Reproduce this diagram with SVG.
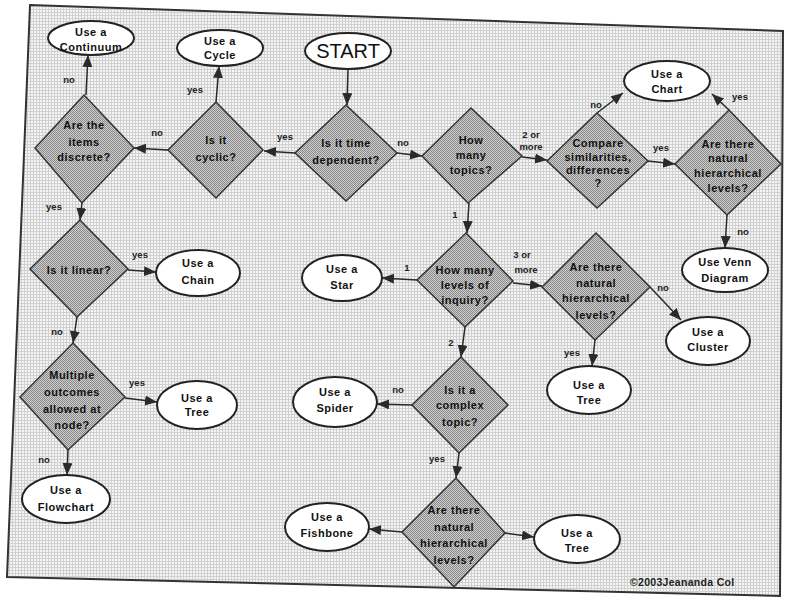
<svg xmlns="http://www.w3.org/2000/svg" width="785" height="603" viewBox="0 0 785 603">
<style>
.t{font-family:"Liberation Sans",Arial,sans-serif;font-weight:bold;font-size:11px;letter-spacing:0.5px;fill:#111;text-anchor:middle}
.l{font-family:"Liberation Sans",Arial,sans-serif;font-weight:bold;font-size:9.5px;fill:#222;text-anchor:middle}
.ell{fill:#fff;stroke:#222;stroke-width:2}
.dia{fill:url(#dp);stroke:#333;stroke-width:1.5}
.c{stroke:#2a2a2a;stroke-width:1.5;fill:none;marker-end:url(#ah)}
</style>
<defs>
<pattern id="bg" width="3" height="3" patternUnits="userSpaceOnUse">
<rect width="3" height="3" fill="#f5f5f5"/>
<rect width="3" height="1" fill="#d0d0d0"/>
<rect width="1" height="3" fill="#d0d0d0"/>
</pattern>
<pattern id="dp" width="2" height="2" patternUnits="userSpaceOnUse">
<rect width="2" height="2" fill="#cdcdcd"/>
<rect width="1" height="1" fill="#8a8a8a"/>
<rect x="1" y="1" width="1" height="1" fill="#8a8a8a"/>
</pattern>
<marker id="ah" markerUnits="userSpaceOnUse" markerWidth="13" markerHeight="11" refX="12" refY="5" orient="auto">
<path d="M0,0 L12,5 L0,10 z" fill="#2a2a2a"/>
</marker>
</defs>
<rect width="785" height="603" fill="#fff"/>
<polygon id="frame" points="30,5 783,31 780,596 7,577" fill="url(#bg)" stroke="#333" stroke-width="2"/>

<g id="connectors">
<line class="c" x1="348" y1="69" x2="347" y2="105"/>
<line class="c" x1="295" y1="153" x2="264" y2="151"/>
<text class="l" x="285" y="140">yes</text>
<line class="c" x1="216" y1="102" x2="219" y2="66"/>
<text class="l" x="195" y="93">yes</text>
<line class="c" x1="168" y1="150" x2="134" y2="148"/>
<text class="l" x="157" y="136">no</text>
<line class="c" x1="86" y1="95" x2="88" y2="55"/>
<text class="l" x="69" y="83">no</text>
<line class="c" x1="82" y1="203" x2="80" y2="220"/>
<text class="l" x="54" y="210">yes</text>
<line class="c" x1="128" y1="270" x2="156" y2="272"/>
<text class="l" x="140" y="258">yes</text>
<line class="c" x1="77" y1="317" x2="73" y2="343"/>
<text class="l" x="57" y="335">no</text>
<line class="c" x1="125" y1="398" x2="157" y2="402"/>
<text class="l" x="137" y="386">yes</text>
<line class="c" x1="68" y1="450" x2="67" y2="475"/>
<text class="l" x="44" y="463">no</text>
<line class="c" x1="397" y1="153" x2="422" y2="156"/>
<text class="l" x="403" y="146">no</text>
<line class="c" x1="522" y1="157" x2="547" y2="160"/>
<text class="l" x="531" y="138">2 or</text>
<text class="l" x="531" y="150">more</text>
<line class="c" x1="648" y1="161" x2="675" y2="164"/>
<text class="l" x="661" y="151">yes</text>
<line class="c" x1="597" y1="113" x2="623" y2="93"/>
<text class="l" x="596" y="108">no</text>
<line class="c" x1="729" y1="110" x2="712" y2="94"/>
<text class="l" x="740" y="100">yes</text>
<line class="c" x1="727" y1="215" x2="725" y2="248"/>
<text class="l" x="743" y="235">no</text>
<line class="c" x1="469" y1="203" x2="467" y2="233"/>
<text class="l" x="455" y="218">1</text>
<line class="c" x1="417" y1="280" x2="382" y2="278"/>
<text class="l" x="407" y="271">1</text>
<line class="c" x1="513" y1="283" x2="542" y2="286"/>
<text class="l" x="522" y="258">3 or</text>
<text class="l" x="526" y="273">more</text>
<line class="c" x1="650" y1="287" x2="681" y2="320"/>
<text class="l" x="663" y="291">no</text>
<line class="c" x1="595" y1="340" x2="592" y2="366"/>
<text class="l" x="572" y="356">yes</text>
<line class="c" x1="465" y1="327" x2="461" y2="357"/>
<text class="l" x="451" y="346">2</text>
<line class="c" x1="412" y1="405" x2="377" y2="404"/>
<text class="l" x="398" y="393">no</text>
<line class="c" x1="459" y1="453" x2="456" y2="478"/>
<text class="l" x="437" y="462">yes</text>
<line class="c" x1="402" y1="532" x2="369" y2="529"/>
<line class="c" x1="505" y1="533" x2="534" y2="537"/>
</g>

<g id="start"><ellipse class="ell" cx="348" cy="51" rx="43" ry="18"/><text x="348" y="58" style="font-family:'Liberation Sans',Arial,sans-serif;font-size:20px;fill:#111;text-anchor:middle">START</text></g>
<g id="continuum"><ellipse class="ell" cx="91" cy="38" rx="43" ry="17"/><text class="t" x="91" y="36">Use a</text><text class="t" x="91" y="51">Continuum</text></g>
<g id="cycle"><ellipse class="ell" cx="220" cy="48" rx="43" ry="18"/><text class="t" x="220" y="45">Use a</text><text class="t" x="220" y="59">Cycle</text></g>
<g id="chart"><ellipse class="ell" cx="667" cy="81" rx="43" ry="20"/><text class="t" x="667" y="78">Use a</text><text class="t" x="667" y="93">Chart</text></g>
<g id="venn"><ellipse class="ell" cx="725" cy="270" rx="43" ry="22"/><text class="t" x="725" y="266">Use Venn</text><text class="t" x="725" y="282">Diagram</text></g>
<g id="chain"><ellipse class="ell" cx="198" cy="273" rx="42" ry="23"/><text class="t" x="198" y="267">Use a</text><text class="t" x="198" y="284">Chain</text></g>
<g id="star"><ellipse class="ell" cx="342" cy="278" rx="40" ry="23"/><text class="t" x="342" y="273">Use a</text><text class="t" x="342" y="289">Star</text></g>
<g id="cluster"><ellipse class="ell" cx="708" cy="341" rx="42" ry="24"/><text class="t" x="708" y="336">Use a</text><text class="t" x="708" y="351">Cluster</text></g>
<g id="tree2"><ellipse class="ell" cx="589" cy="390" rx="42" ry="24"/><text class="t" x="589" y="389">Use a</text><text class="t" x="589" y="404">Tree</text></g>
<g id="tree1"><ellipse class="ell" cx="197" cy="405" rx="40" ry="24"/><text class="t" x="197" y="402">Use a</text><text class="t" x="197" y="416">Tree</text></g>
<g id="spider"><ellipse class="ell" cx="335" cy="402" rx="42" ry="25"/><text class="t" x="335" y="396">Use a</text><text class="t" x="335" y="412">Spider</text></g>
<g id="flowchart"><ellipse class="ell" cx="66" cy="499" rx="44" ry="24"/><text class="t" x="66" y="494">Use a</text><text class="t" x="66" y="511">Flowchart</text></g>
<g id="fishbone"><ellipse class="ell" cx="327" cy="527" rx="42" ry="24"/><text class="t" x="327" y="521">Use a</text><text class="t" x="327" y="537">Fishbone</text></g>
<g id="tree3"><ellipse class="ell" cx="577" cy="539" rx="43" ry="24"/><text class="t" x="577" y="537">Use a</text><text class="t" x="577" y="552">Tree</text></g>

<g id="timeDependent"><polygon class="dia" points="346,105 397,153 346,201 295,153"/><text class="t" x="346" y="147">Is it time</text><text class="t" x="346" y="164">dependent?</text></g>
<g id="cyclic"><polygon class="dia" points="216,102 263,150 216,198 168,150"/><text class="t" x="216" y="144">Is it</text><text class="t" x="216" y="161">cyclic?</text></g>
<g id="discrete"><polygon class="dia" points="84,95 134,148 82,203 35,148"/><text class="t" x="84" y="129">Are the</text><text class="t" x="84" y="146">items</text><text class="t" x="84" y="161">discrete?</text></g>
<g id="topics"><polygon class="dia" points="471,108 522,156 468,203 422,156"/><text class="t" x="471" y="144">How</text><text class="t" x="471" y="159">many</text><text class="t" x="471" y="174">topics?</text></g>
<g id="compare"><polygon class="dia" points="597,113 648,161 597,208 547,161"/><text class="t" x="598" y="147">Compare</text><text class="t" x="598" y="161">similarities,</text><text class="t" x="598" y="174">differences</text><text class="t" x="598" y="187">?</text></g>
<g id="hier1"><polygon class="dia" points="729,110 781,164 727,215 675,164"/><text class="t" x="728" y="148">Are there</text><text class="t" x="728" y="162">natural</text><text class="t" x="728" y="177">hierarchical</text><text class="t" x="728" y="192">levels?</text></g>
<g id="levels"><polygon class="dia" points="466,233 513,281 465,327 417,280"/><text class="t" x="465" y="274">How many</text><text class="t" x="465" y="289">levels of</text><text class="t" x="465" y="304">inquiry?</text></g>
<g id="hier2"><polygon class="dia" points="596,233 650,287 595,340 542,287"/><text class="t" x="596" y="271">Are there</text><text class="t" x="596" y="287">natural</text><text class="t" x="596" y="302">hierarchical</text><text class="t" x="596" y="319">levels?</text></g>
<g id="complex"><polygon class="dia" points="461,357 508,405 459,453 412,405"/><text class="t" x="460" y="394">Is it a</text><text class="t" x="460" y="409">complex</text><text class="t" x="460" y="426">topic?</text></g>
<g id="linear"><polygon class="dia" points="80,220 128,269 77,317 30,269"/><text class="t" x="79" y="274">Is it linear?</text></g>
<g id="multiple"><polygon class="dia" points="73,343 125,397 68,450 20,397"/><text class="t" x="72" y="379">Multiple</text><text class="t" x="72" y="396">outcomes</text><text class="t" x="72" y="413">allowed at</text><text class="t" x="72" y="429">node?</text></g>
<g id="hier3"><polygon class="dia" points="456,478 505,533 454,587 402,532"/><text class="t" x="454" y="514">Are there</text><text class="t" x="454" y="531">natural</text><text class="t" x="454" y="547">hierarchical</text><text class="t" x="454" y="564">levels?</text></g>

<text id="copyright" x="630" y="586" style="font-family:'Liberation Sans',Arial,sans-serif;font-weight:bold;font-size:10.5px;fill:#222;letter-spacing:0.3px">©2003Jeananda Col</text>
</svg>
